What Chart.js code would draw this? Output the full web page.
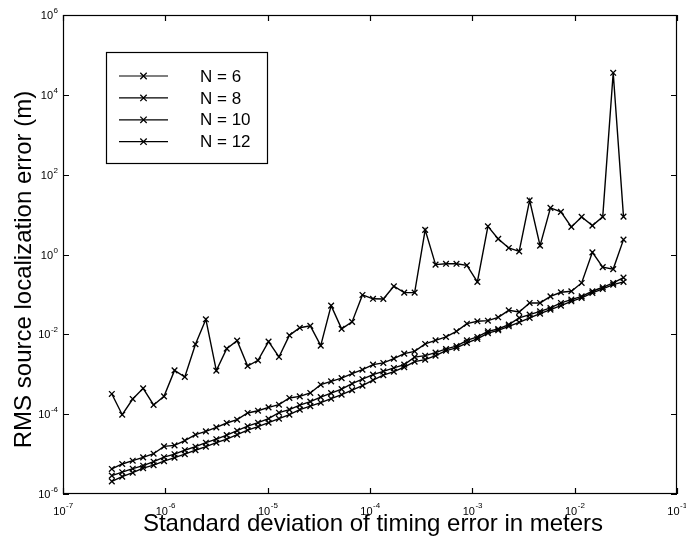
<!DOCTYPE html>
<html>
<head>
<meta charset="utf-8">
<title>RMS source localization error</title>
<script src="https://cdn.jsdelivr.net/npm/chart.js@4.4.1/dist/chart.umd.min.js"></script>
<style>
  html, body { margin: 0; padding: 0; background: #fff; }
  #wrap { width: 686px; height: 544px; position: relative; }
</style>
</head>
<body>
<div id="wrap"><canvas id="chart"></canvas></div>
<script>
// standard deviation of timing error (m)
const sigmaValues = [3.00e-7, 3.79e-7, 4.80e-7, 6.07e-7, 7.68e-7, 9.71e-7, 1.23e-6, 1.55e-6, 1.97e-6, 2.49e-6,
  3.15e-6, 3.98e-6, 5.03e-6, 6.37e-6, 8.05e-6, 1.02e-5, 1.29e-5, 1.63e-5, 2.06e-5, 2.61e-5,
  3.30e-5, 4.17e-5, 5.28e-5, 6.68e-5, 8.44e-5, 1.07e-4, 1.35e-4, 1.71e-4, 2.16e-4, 2.73e-4,
  3.46e-4, 4.37e-4, 5.53e-4, 7.00e-4, 8.85e-4, 1.12e-3, 1.42e-3, 1.79e-3, 2.27e-3, 2.87e-3,
  3.63e-3, 4.59e-3, 5.80e-3, 7.34e-3, 9.28e-3, 1.17e-2, 1.49e-2, 1.88e-2, 2.38e-2, 3.00e-2];

// RMS error for each number of sensors
const errN6 = [3.21e-4, 9.7e-5, 2.40e-4, 4.43e-4, 1.70e-4, 2.79e-4, 1.25e-3, 8.55e-4, 5.65e-3, 2.38e-2,
  1.23e-3, 4.38e-3, 6.95e-3, 1.61e-3, 2.23e-3, 6.56e-3, 2.71e-3, 9.44e-3, 1.46e-2, 1.63e-2,
  5.21e-3, 5.24e-2, 1.37e-2, 2.05e-2, 9.7e-2, 7.76e-2, 7.71e-2, 0.160, 0.111, 0.111,
  4.14, 0.558, 0.585, 0.584, 0.536, 0.206, 5.09, 2.46, 1.46, 1.20,
  22.8, 1.67, 14.7, 11.7, 4.92, 8.75, 5.30, 8.75, 3.56e4, 8.9];
const errN8 = [4.24e-6, 5.65e-6, 6.84e-6, 8.27e-6, 1.02e-5, 1.56e-5, 1.65e-5, 2.17e-5, 3.06e-5, 3.71e-5,
  4.67e-5, 6.01e-5, 7.28e-5, 1.07e-4, 1.22e-4, 1.48e-4, 1.73e-4, 2.55e-4, 2.79e-4, 3.40e-4,
  5.48e-4, 6.64e-4, 7.98e-4, 1.04e-3, 1.30e-3, 1.74e-3, 1.92e-3, 2.46e-3, 3.28e-3, 3.75e-3,
  5.74e-3, 7.08e-3, 8.61e-3, 1.19e-2, 1.85e-2, 2.12e-2, 2.20e-2, 2.67e-2, 4.00e-2, 3.64e-2,
  6.12e-2, 6.12e-2, 8.95e-2, 0.113, 0.120, 0.194, 1.13, 0.483, 0.431, 2.36];
const errN10 = [2.88e-6, 3.52e-6, 4.31e-6, 5.12e-6, 6.45e-6, 8.36e-6, 9.93e-6, 1.25e-5, 1.53e-5, 1.93e-5,
  2.36e-5, 2.98e-5, 3.86e-5, 5.00e-5, 6.12e-5, 7.71e-5, 1.09e-4, 1.30e-4, 1.68e-4, 2.06e-4,
  2.67e-4, 3.36e-4, 4.24e-4, 5.81e-4, 7.53e-4, 9.77e-4, 1.18e-3, 1.44e-3, 1.74e-3, 2.69e-3,
  2.92e-3, 3.48e-3, 4.31e-3, 5.06e-3, 7.08e-3, 8.61e-3, 1.19e-2, 1.36e-2, 1.75e-2, 2.58e-2,
  3.12e-2, 3.77e-2, 4.59e-2, 6.12e-2, 7.41e-2, 8.95e-2, 0.120, 0.151, 0.194, 0.264];
const errN12 = [2.07e-6, 2.72e-6, 3.42e-6, 4.43e-6, 5.27e-6, 6.64e-6, 8.13e-6, 9.93e-6, 1.25e-5, 1.53e-5,
  1.93e-5, 2.36e-5, 3.06e-5, 3.97e-5, 4.86e-5, 6.12e-5, 7.71e-5, 9.70e-5, 1.30e-4, 1.59e-4,
  1.94e-4, 2.44e-4, 3.08e-4, 4.00e-4, 5.18e-4, 7.11e-4, 9.48e-4, 1.16e-3, 1.51e-3, 2.07e-3,
  2.32e-3, 2.92e-3, 3.90e-3, 4.56e-3, 6.10e-3, 7.67e-3, 1.07e-2, 1.26e-2, 1.59e-2, 2.00e-2,
  2.58e-2, 3.30e-2, 4.16e-2, 5.24e-2, 6.71e-2, 8.17e-2, 0.109, 0.137, 0.176, 0.206];

const seriesLabels = ["N = 6", "N = 8", "N = 10", "N = 12"];

// axis ticks (decades) and their exponent labels
const xTickValues = [1e-7, 1e-6, 1e-5, 1e-4, 1e-3, 1e-2, 1e-1];
const xTickExponents = ["-7", "-6", "-5", "-4", "-3", "-2", "-1"];
const yTickValues = [1e-6, 1e-4, 1e-2, 1e0, 1e2, 1e4, 1e6];
const yTickExponents = ["-6", "-4", "-2", "0", "2", "4", "6"];

const xTitle = "Standard deviation of timing error in meters";
const yTitle = "RMS source localization error (m)";

const FONT = "'Liberation Sans', Arial, Helvetica, sans-serif";

function toPoints(values) {
  return sigmaValues.map((s, i) => ({ x: s, y: values[i] }));
}

function makeDataset(label, values) {
  return {
    label: label,
    data: toPoints(values),
    borderColor: "#000",
    borderWidth: 1.4,
    pointStyle: "crossRot",
    pointRadius: 4,
    pointBorderColor: "#000",
    pointBorderWidth: 1.3,
    fill: false,
    tension: 0
  };
}

// draws the box, inward ticks, 10^n labels, titles and legend
const decorations = {
  id: "decorations",
  afterDraw(chart) {
    const { ctx, chartArea: a, scales } = chart;
    const xs = scales.x, ys = scales.y;
    ctx.save();
    ctx.strokeStyle = "#000";
    ctx.fillStyle = "#000";
    ctx.lineWidth = 1.2;

    ctx.strokeRect(a.left + 0.5, a.top + 0.5, a.right - a.left - 1, a.bottom - a.top - 1);

    const tl = 6;
    ctx.beginPath();
    xTickValues.forEach(v => {
      const px = Math.round(xs.getPixelForValue(v)) + 0.5;
      ctx.moveTo(px, a.bottom); ctx.lineTo(px, a.bottom - tl);
      ctx.moveTo(px, a.top); ctx.lineTo(px, a.top + tl);
    });
    yTickValues.forEach(v => {
      const py = Math.round(ys.getPixelForValue(v)) + 0.5;
      ctx.moveTo(a.left, py); ctx.lineTo(a.left + tl, py);
      ctx.moveTo(a.right, py); ctx.lineTo(a.right - tl, py);
    });
    ctx.stroke();

    const baseFont = "11px " + FONT;
    const expFont = "8px " + FONT;

    // x tick labels
    ctx.textBaseline = "alphabetic";
    xTickValues.forEach((v, i) => {
      const px = xs.getPixelForValue(v);
      ctx.font = baseFont;
      const wb = ctx.measureText("10").width;
      ctx.font = expFont;
      const we = ctx.measureText(xTickExponents[i]).width;
      const start = px - (wb + we) / 2;
      ctx.font = baseFont;
      ctx.textAlign = "left";
      ctx.fillText("10", start, 515);
      ctx.font = expFont;
      ctx.fillText(xTickExponents[i], start + wb + 0.5, 508);
    });

    // y tick labels
    yTickValues.forEach((v, i) => {
      const py = ys.getPixelForValue(v);
      ctx.font = expFont;
      const we = ctx.measureText(yTickExponents[i]).width;
      const right = a.left - 5;
      ctx.textAlign = "left";
      ctx.fillText(yTickExponents[i], right - we, py - 2);
      ctx.font = baseFont;
      ctx.textAlign = "right";
      ctx.fillText("10", right - we - 0.5, py + 4);
    });

    // axis titles
    ctx.font = "24px " + FONT;
    ctx.textAlign = "center";
    ctx.textBaseline = "alphabetic";
    ctx.fillText(xTitle, (a.left + a.right) / 2 + 3, 531);
    ctx.save();
    ctx.translate(31, (a.top + a.bottom) / 2 + 15);
    ctx.rotate(-Math.PI / 2);
    ctx.fillText(yTitle, 0, 0);
    ctx.restore();

    // legend
    const box = { left: 106.5, top: 52.5, width: 161, height: 111 };
    ctx.fillStyle = "#fff";
    ctx.fillRect(box.left, box.top, box.width, box.height);
    ctx.strokeStyle = "#000";
    ctx.lineWidth = 1.2;
    ctx.strokeRect(box.left, box.top, box.width, box.height);
    ctx.fillStyle = "#000";
    ctx.font = "17px " + FONT;
    ctx.textAlign = "left";
    ctx.textBaseline = "middle";
    chart.data.datasets.forEach((ds, i) => {
      const cy = 76 + i * 21.9;
      ctx.lineWidth = 1.2;
      ctx.beginPath();
      ctx.moveTo(119, cy); ctx.lineTo(168, cy);
      ctx.stroke();
      const r = 3.2;
      ctx.lineWidth = 1.3;
      ctx.beginPath();
      ctx.moveTo(143.5 - r, cy - r); ctx.lineTo(143.5 + r, cy + r);
      ctx.moveTo(143.5 - r, cy + r); ctx.lineTo(143.5 + r, cy - r);
      ctx.stroke();
      ctx.fillText(ds.label, 200, cy + 1);
    });

    ctx.restore();
  }
};

const chart = new Chart(document.getElementById("chart"), {
  type: "line",
  data: {
    datasets: [
      makeDataset(seriesLabels[0], errN6),
      makeDataset(seriesLabels[1], errN8),
      makeDataset(seriesLabels[2], errN10),
      makeDataset(seriesLabels[3], errN12)
    ]
  },
  options: {
    responsive: true,
    maintainAspectRatio: false,
    animation: false,
    layout: { padding: { left: 63, top: 15, right: 9, bottom: 50 } },
    plugins: {
      legend: { display: false },
      tooltip: { enabled: false }
    },
    scales: {
      x: {
        type: "logarithmic",
        min: 1e-7,
        max: 1e-1,
        afterBuildTicks: scale => { scale.ticks = xTickValues.map(v => ({ value: v })); },
        afterFit: scale => { scale.height = 0; },
        ticks: { display: false },
        grid: { display: false },
        border: { display: false }
      },
      y: {
        type: "logarithmic",
        min: 1e-6,
        max: 1e6,
        afterBuildTicks: scale => { scale.ticks = yTickValues.map(v => ({ value: v })); },
        afterFit: scale => { scale.width = 0; },
        ticks: { display: false },
        grid: { display: false },
        border: { display: false }
      }
    }
  },
  plugins: [decorations]
});
</script>
</body>
</html>
